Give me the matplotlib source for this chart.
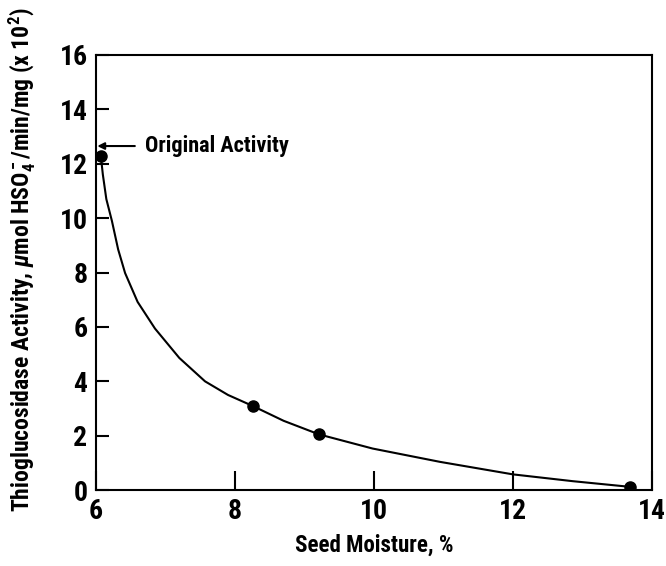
import matplotlib
matplotlib.use("Agg")
import matplotlib.pyplot as plt
from matplotlib import font_manager

# measured points
moisture = [6.07, 8.26, 9.21, 13.69]
activity = [12.3, 3.09, 2.05, 0.12]

# hand-drawn fit curve
curve_x = [6.07, 6.1, 6.15, 6.23, 6.32, 6.42, 6.6, 6.85, 7.2, 7.57, 7.9, 8.26, 8.7, 9.21, 9.98, 10.95, 12.0, 12.86, 13.69]
curve_y = [12.3, 11.6, 10.7, 9.9, 8.85, 7.98, 6.92, 5.94, 4.86, 4.0, 3.5, 3.09, 2.55, 2.05, 1.53, 1.04, 0.58, 0.33, 0.12]

original_activity = 12.65

x_ticks = [6, 8, 10, 12, 14]
y_ticks = [0, 2, 4, 6, 8, 10, 12, 14, 16]

# the original uses a condensed bold sans, pick one if installed
names = {f.name for f in font_manager.fontManager.ttflist}
preferred = ["Roboto Condensed", "Archivo Narrow", "PT Sans Narrow", "Liberation Sans Narrow", "Arial Narrow"]
choice = [n for n in preferred if n in names]
stretch = "normal"
if choice:
    main_font = choice[0]
else:
    narrow = [f for f in font_manager.fontManager.ttflist
              if "condensed" in str(f.stretch) or "Narrow" in f.name or "Condensed" in f.name]
    main_font = narrow[0].name if narrow else "DejaVu Sans"
    stretch = narrow[0].stretch if narrow else "normal"
FONT = [main_font, "DejaVu Sans"]

plt.rcParams["font.family"] = FONT
plt.rcParams["font.weight"] = "bold"
plt.rcParams["font.stretch"] = stretch
plt.rcParams["mathtext.fontset"] = "custom"
plt.rcParams["mathtext.rm"] = main_font + ":bold"
plt.rcParams["mathtext.it"] = main_font + ":bold:italic"

fig = plt.figure(figsize=(6.66, 5.66), dpi=100)
ax = fig.add_axes([0.144, 0.134, 0.835, 0.769])

ax.plot(curve_x, curve_y, color="black", lw=1.5)
ax.plot(moisture, activity, "o", color="black", ms=8)

ax.annotate("Original Activity", xy=(6.02, original_activity),
            xytext=(6.7, original_activity), fontsize=16, fontweight="bold",
            va="center", ha="left",
            arrowprops=dict(arrowstyle="-|>", color="black", lw=1.5,
                            mutation_scale=10, shrinkA=5, shrinkB=0))

ax.set_xlim(6, 14)
ax.set_ylim(0, 16)
ax.set_xticks(x_ticks)
ax.set_yticks(y_ticks)
ax.tick_params(axis="x", direction="in", length=14, width=1.5, labelsize=20, pad=6)
ax.tick_params(axis="y", direction="in", length=9.5, width=1.5, labelsize=20, pad=6)
for s in ax.spines.values():
    s.set_linewidth(1.5)

ax.set_xlabel("Seed Moisture, %", fontsize=16.5, fontweight="bold", labelpad=6)
ax.set_ylabel(r"Thioglucosidase Activity, $\mathit{\mu}$mol HSO$_4^-$/min/mg (x 10$^2$)",
              fontsize=17, fontweight="bold")
ax.yaxis.set_label_coords(-0.105, 0.53)

fig.savefig("out.png", dpi=100)
